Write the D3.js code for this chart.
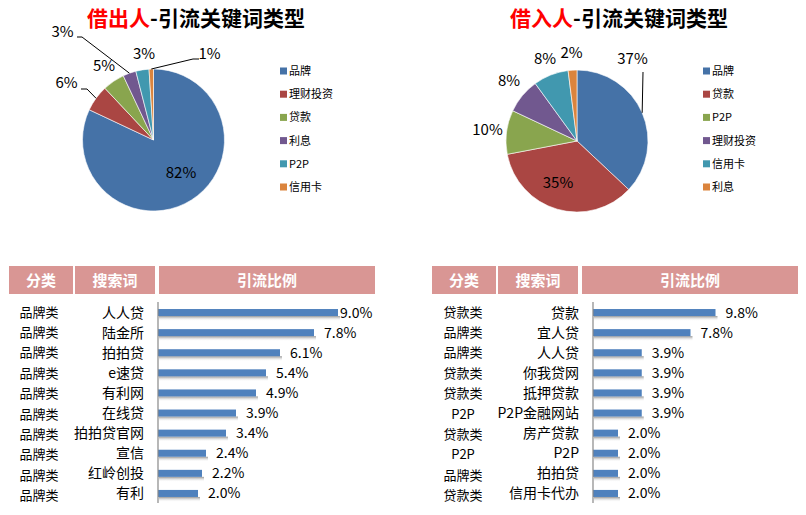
<!DOCTYPE html>
<html><head><meta charset="utf-8">
<script src="https://cdn.jsdelivr.net/npm/d3@7/dist/d3.min.js"></script>
<style>
body{margin:0;background:#fff;}
svg{display:block;font-family:"Noto Sans CJK SC","Noto Sans",sans-serif;}
</style></head>
<body><svg id="c" width="806" height="515"></svg>
<script>
// ---------- DATA ----------
const lenderCats = ["品牌","理财投资","贷款","利息","P2P","信用卡"];
const lenderVals = [82,6,5,3,3,1];
const borrowerCats = ["品牌","贷款","P2P","理财投资","信用卡","利息"];
const borrowerVals = [37,35,10,8,8,2];

const lenderTypes = ["品牌类","品牌类","品牌类","品牌类","品牌类","品牌类","品牌类","品牌类","品牌类","品牌类"];
const lenderWords = ["人人贷","陆金所","拍拍贷","e速贷","有利网","在线贷","拍拍贷官网","宣信","红岭创投","有利"];
const lenderShare = [9.0,7.8,6.1,5.4,4.9,3.9,3.4,2.4,2.2,2.0];

const borrowerTypes = ["贷款类","品牌类","品牌类","贷款类","贷款类","P2P","贷款类","P2P","品牌类","贷款类"];
const borrowerWords = ["贷款","宜人贷","人人贷","你我贷网","抵押贷款","P2P金融网站","房产贷款","P2P","拍拍贷","信用卡代办"];
const borrowerShare = [9.8,7.8,3.9,3.9,3.9,3.9,2.0,2.0,2.0,2.0];

const headers = ["分类","搜索词","引流比例"];

// ---------- STYLE / LAYOUT ----------
const pieColors = ["#4572A7","#AA4643","#89A54E","#71588F","#4198AF","#DB843D"];

const svg = d3.select("#c");
const defs = svg.append("defs");
const grad = defs.append("linearGradient").attr("id","sh").attr("x1",0).attr("x2",0).attr("y1",0).attr("y2",1);
grad.append("stop").attr("offset","0%").attr("stop-color","#8a8a8a").attr("stop-opacity",0.9);
grad.append("stop").attr("offset","100%").attr("stop-color","#ffffff").attr("stop-opacity",0);

function title(cx, red, rest){
  const t = svg.append("text").attr("x",cx).attr("y",26).attr("text-anchor","middle")
    .attr("font-size",21).attr("font-weight","bold");
  t.append("tspan").attr("fill","#FF0000").text(red);
  t.append("tspan").attr("fill","#000").text(rest);
}
title(196,"借出人","-引流关键词类型");
title(619,"借入人","-引流关键词类型");

function pie(cx, cy, r, cats, vals, labelPos, leaders, legendX){
  const g = svg.append("g").attr("transform",`translate(${cx},${cy})`);
  const arcs = d3.pie().sort(null).value(d=>d)(vals);
  const arc = d3.arc().innerRadius(0).outerRadius(r);
  g.selectAll("path").data(arcs).join("path")
    .attr("d",arc).attr("fill",(d,i)=>pieColors[i])
    .attr("stroke","#fff").attr("stroke-width",0.6);
  arcs.forEach((a,i)=>{
    const mid=(a.startAngle+a.endAngle)/2;
    const ex=Math.sin(mid)*r, ey=-Math.cos(mid)*r;
    if(leaders[i]){
      const pts=[[ex,ey]].concat(leaders[i]);
      g.append("path").attr("d",d3.line()(pts)).attr("fill","none").attr("stroke","#000").attr("stroke-width",1);
    }
    g.append("text").attr("x",labelPos[i][0]).attr("y",labelPos[i][1]+5.5)
      .attr("text-anchor","middle").attr("font-size",15).attr("fill","#000")
      .text(vals[i]+"%");
  });
  const lg = svg.append("g");
  cats.forEach((c,i)=>{
    const y=71+i*23.2;
    lg.append("rect").attr("x",legendX).attr("y",y-3.5).attr("width",7).attr("height",7).attr("fill",pieColors[i]);
    lg.append("text").attr("x",legendX+9).attr("y",y+4).attr("font-size",11).attr("fill","#000").text(c);
  });
}

pie(153.5,140,71,lenderCats,lenderVals,
  [[27.5,32.5],[-87,-57.5],[-49.5,-75],[-91,-108.5],[-9.5,-87],[56,-87]],
  [null,[[-66.5,-51],[-72.5,-51]],null,[[-71.5,-103],[-76.5,-103]],null,[[39.5,-81],[45.5,-81]]],
  280);
pie(577,141,71,borrowerCats,borrowerVals,
  [[55.5,-83],[-19,41.5],[-89.5,-11.5],[-68,-60.5],[-32,-82.5],[-5.5,-88.5]],
  [[[66,-69]],null,null,null,null,null],
  703);

function table(x0, cols, types, words, shares, maxV, catX, wordX){
  const hg = svg.append("g");
  cols.forEach((c,i)=>{
    hg.append("rect").attr("x",c[0]).attr("y",266).attr("width",c[1]-c[0]).attr("height",28).attr("fill","#D99694");
    hg.append("text").attr("x",(c[0]+c[1])/2).attr("y",285.5).attr("text-anchor","middle")
      .attr("font-size",15).attr("font-weight","bold").attr("fill","#fff").text(headers[i]);
  });
  const x = d3.scaleLinear().domain([0,maxV]).range([x0, x0+200]);
  const y = d3.scaleBand().domain(d3.range(words.length)).range([303,503]).paddingInner(0.65).paddingOuter(0.3);
  const g = svg.append("g");
  g.selectAll("rect.sh").data(shares).join("rect").attr("class","sh")
    .attr("x",x(0)+1).attr("y",(d,i)=>y(i)+y.bandwidth()).attr("width",d=>x(d)-x(0)+1).attr("height",5)
    .attr("fill","url(#sh)");
  g.selectAll("rect.b").data(shares).join("rect").attr("class","b")
    .attr("x",x(0)).attr("y",(d,i)=>y(i)).attr("width",d=>x(d)-x(0)).attr("height",y.bandwidth())
    .attr("fill","#4F81BD");
  g.append("line").attr("x1",x0).attr("x2",x0).attr("y1",302).attr("y2",503).attr("stroke","#888").attr("stroke-width",1.2);
  g.selectAll("text.v").data(shares).join("text").attr("class","v")
    .attr("x",d=>Math.min(x(d)+10, x0+182)).attr("y",(d,i)=>y(i)+y.bandwidth()/2+5)
    .attr("font-size",14).attr("fill","#000").text(d=>d.toFixed(1)+"%");
  g.selectAll("text.w").data(words).join("text").attr("class","w")
    .attr("x",wordX).attr("y",(d,i)=>y(i)+y.bandwidth()/2+5).attr("text-anchor","end")
    .attr("font-size",14).attr("fill","#000").text(d=>d);
  g.selectAll("text.t").data(types).join("text").attr("class","t")
    .attr("x",catX).attr("y",(d,i)=>y(i)+y.bandwidth()/2+4+i*0.3).attr("text-anchor","middle")
    .attr("font-size",13).attr("fill","#000").text(d=>d);
}
table(158,[[9,73],[75,155],[159,375]],lenderTypes,lenderWords,lenderShare,10,39,144);
table(593,[[432,496],[498,578],[582,798]],borrowerTypes,borrowerWords,borrowerShare,16,463,579);
</script></body></html>
